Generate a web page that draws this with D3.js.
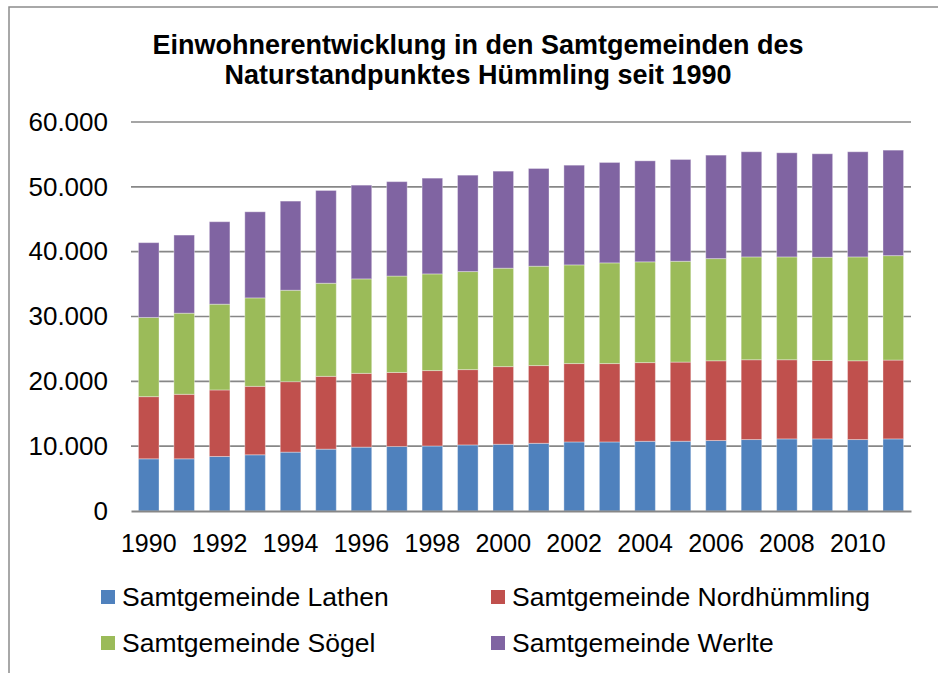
<!DOCTYPE html>
<html>
<head>
<meta charset="utf-8">
<script src="https://cdn.jsdelivr.net/npm/d3@7"></script>
<style>
  body { margin: 0; background: #fff; }
  text { font-family: "Liberation Sans", Arial, sans-serif; fill: #000; }
</style>
</head>
<body>
<script>
// data
var years = ["1990","1991","1992","1993","1994","1995","1996","1997","1998","1999","2000",
             "2001","2002","2003","2004","2005","2006","2007","2008","2009","2010","2011"];
var lathen = [8050, 8050, 8410, 8670, 9080, 9540, 9850, 9950, 10030, 10190, 10290,
              10440, 10650, 10650, 10750, 10760, 10870, 11020, 11120, 11120, 11020, 11120];
var nordhuemmling = [9590, 9950, 10260, 10560, 10870, 11230, 11380, 11420, 11630, 11620, 11980,
                     11990, 12090, 12090, 12140, 12210, 12300, 12310, 12210, 12100, 12150, 12160];
var soegel = [12210, 12510, 13230, 13640, 14100, 14360, 14570, 14870, 14910, 15120, 15180,
              15330, 15220, 15530, 15540, 15550, 15760, 15860, 15860, 15920, 16020, 16110];
var werlte = [11540, 12050, 12720, 13280, 13750, 14310, 14460, 14560, 14770, 14870, 14970,
              15070, 15380, 15490, 15580, 15700, 15960, 16220, 16060, 15960, 16220, 16270];
var seriesNames = ["Samtgemeinde Lathen", "Samtgemeinde Nordhümmling", "Samtgemeinde Sögel", "Samtgemeinde Werlte"];
var colors = ["#4F81BD", "#C0504D", "#9BBB59", "#8064A2"];
var yTicks = [0, 10000, 20000, 30000, 40000, 50000, 60000];
var titleLines = ["Einwohnerentwicklung in den Samtgemeinden des", "Naturstandpunktes Hümmling seit 1990"];

var W = 938, H = 673;
var plot = {left: 131, right: 911, top: 122, bottom: 511};

// german number format 10.000
var de = d3.formatLocale({decimal: ",", thousands: ".", grouping: [3], currency: ["", " €"]});
var fmt = de.format(",");

// build table for the stack
var keys = ["lathen", "nordhuemmling", "soegel", "werlte"];
var table = years.map(function(y, i) {
    return {year: y, lathen: lathen[i], nordhuemmling: nordhuemmling[i], soegel: soegel[i], werlte: werlte[i]};
});
var stacked = d3.stack().keys(keys)(table);

var x = d3.scaleBand().domain(years).range([plot.left, plot.right]).paddingInner(0.42).paddingOuter(0.21);
var y = d3.scaleLinear().domain([0, 60000]).range([plot.bottom, plot.top]);

var svg = d3.select("body").append("svg")
    .attr("width", W)
    .attr("height", H);

// chart border (runs off the right/bottom edge in the original)
svg.append("rect")
    .attr("x", 9).attr("y", 7)
    .attr("width", 1000).attr("height", 1000)
    .attr("fill", "none")
    .attr("stroke", "#8c8c8c")
    .attr("stroke-width", 1.5);

// title
svg.append("g").selectAll("text").data(titleLines).enter().append("text")
    .attr("x", 478)
    .attr("y", function(d, i) { return 54 + i * 30; })
    .attr("text-anchor", "middle")
    .style("font-size", "27px")
    .style("font-weight", "bold")
    .text(function(d) { return d; });

// gridlines
svg.append("g").selectAll("line").data(yTicks.slice(1)).enter().append("line")
    .attr("x1", plot.left).attr("x2", plot.right)
    .attr("y1", function(d) { return y(d); })
    .attr("y2", function(d) { return y(d); })
    .attr("stroke", "#878787")
    .attr("stroke-width", 1.6);

// bars
svg.append("g").selectAll("g").data(stacked).enter().append("g")
    .attr("fill", function(d, i) { return colors[i]; })
    .selectAll("rect").data(function(d) { return d; }).enter().append("rect")
    .attr("x", function(d) { return x(d.data.year); })
    .attr("width", x.bandwidth())
    .attr("y", function(d) { return y(d[1]); })
    .attr("height", function(d) { return y(d[0]) - y(d[1]); })
    .attr("stroke", "rgba(255,255,255,0.35)")
    .attr("stroke-width", 1);

// y axis
var yAxis = svg.append("g")
    .attr("transform", "translate(" + plot.left + ",0)")
    .call(d3.axisLeft(y).tickValues(yTicks).tickFormat(fmt).tickSize(0).tickPadding(23));
yAxis.select(".domain").remove();
yAxis.selectAll("text").style("font-size", "26px").attr("fill", "#000");

// x axis
var xAxis = svg.append("g")
    .attr("transform", "translate(0," + plot.bottom + ")")
    .call(d3.axisBottom(x).tickSize(0).tickPadding(23)
        .tickFormat(function(d, i) { return i % 2 === 0 ? d : ""; }));
xAxis.select(".domain")
    .attr("stroke", "#878787")
    .attr("stroke-width", 2);
xAxis.selectAll("text").style("font-size", "25px").attr("fill", "#000");

// legend
var legend = svg.append("g").selectAll("g").data(seriesNames).enter().append("g")
    .attr("transform", function(d, i) {
        return "translate(" + (i % 2 === 0 ? 101 : 491) + "," + (i < 2 ? 590 : 636) + ")";
    });
legend.append("rect")
    .attr("width", 14).attr("height", 14)
    .attr("fill", function(d, i) { return colors[i]; });
legend.append("text")
    .attr("x", 21)
    .attr("y", 16)
    .style("font-size", "26.5px")
    .text(function(d) { return d; });
</script>
</body>
</html>
